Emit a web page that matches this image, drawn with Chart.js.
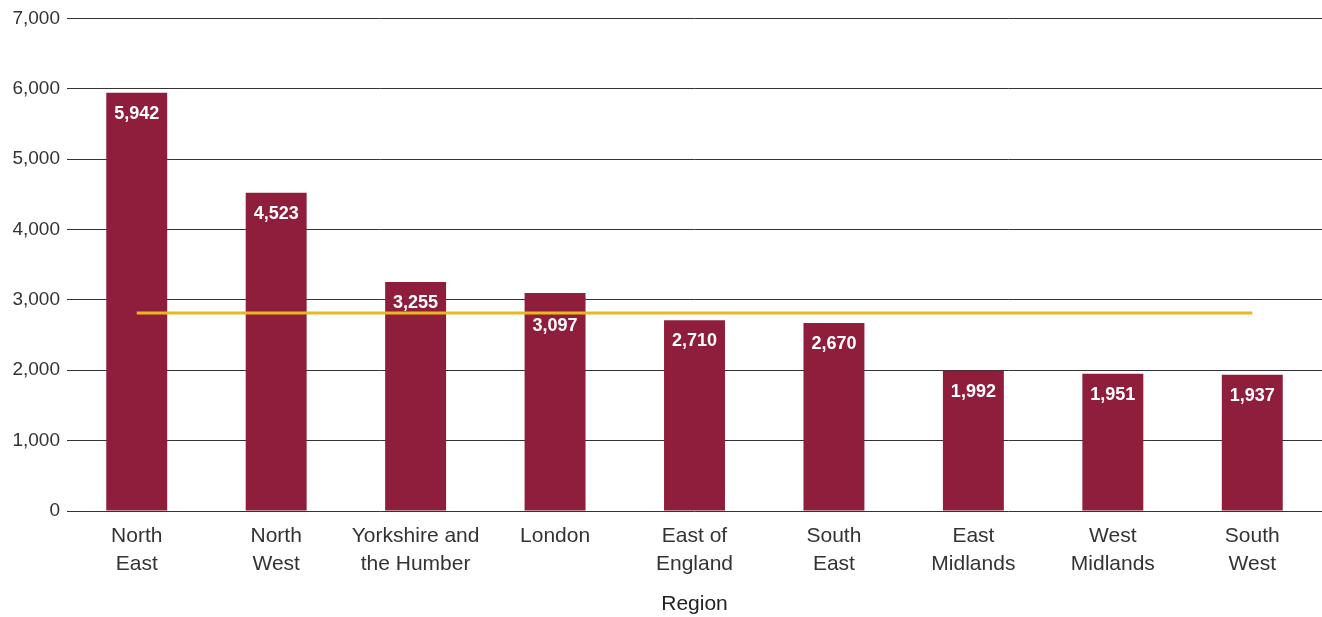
<!DOCTYPE html>
<html>
<head>
<meta charset="utf-8">
<script src="https://cdn.jsdelivr.net/npm/chart.js@4"></script>
<style>
  body { margin: 0; background: #fff; }
  #chart-wrapper { width: 1322px; height: 617px; }
</style>
</head>
<body>
<div id="chart-wrapper"><canvas id="chart-bar-region" width="1322" height="617"></canvas></div>
<script>
const regions = [
  ["North", "East"],
  ["North", "West"],
  ["Yorkshire and", "the Humber"],
  "London",
  ["East of", "England"],
  ["South", "East"],
  ["East", "Midlands"],
  ["West", "Midlands"],
  ["South", "West"],
];
const regionValues = [5942, 4523, 3255, 3097, 2710, 2670, 1992, 1951, 1937];
const averageValue = 2815;

const barColor = "#8E1E3C";
const lineColor = "#EBB81C";
const fontFamily = "'Liberation Sans', Arial, sans-serif";

// white value labels near the top of each bar, pushed below the yellow line when they'd hit it
const barValueLabels = {
  id: "barValueLabels",
  afterDatasetsDraw(chart) {
    const ctx = chart.ctx;
    const meta = chart.getDatasetMeta(1);
    const lineY = chart.scales.y.getPixelForValue(averageValue);
    ctx.save();
    ctx.fillStyle = "#fff";
    ctx.font = "bold 18px " + fontFamily;
    ctx.textAlign = "center";
    ctx.textBaseline = "middle";
    meta.data.forEach((bar, i) => {
      let y = bar.y + 21;
      if (Math.abs(y - lineY) < 6) y = lineY + 13;
      ctx.fillText(regionValues[i].toLocaleString("en-GB"), bar.x, y);
    });
    ctx.restore();
  },
};

new Chart(document.getElementById("chart-bar-region"), {
  data: {
    labels: regions,
    datasets: [
      {
        type: "line",
        label: "Average",
        data: new Array(regionValues.length).fill(averageValue),
        borderColor: lineColor,
        borderWidth: 3,
        pointRadius: 0,
        fill: false,
        order: 0,
      },
      {
        type: "bar",
        label: "Region",
        data: regionValues,
        backgroundColor: barColor,
        barPercentage: 0.437,
        categoryPercentage: 1,
        order: 1,
      },
    ],
  },
  plugins: [barValueLabels],
  options: {
    responsive: false,
    animation: false,
    layout: { padding: { top: 10, right: 0, left: 0, bottom: 0 } },
    plugins: {
      legend: { display: false },
      tooltip: { enabled: false },
    },
    scales: {
      x: {
        grid: { display: false, drawTicks: false },
        border: { display: false },
        ticks: {
          color: "#333",
          font: { family: fontFamily, size: 21, lineHeight: 1.3 },
          padding: 12,
          maxRotation: 0,
          autoSkip: false,
        },
        title: {
          display: true,
          text: "Region",
          color: "#222",
          font: { family: fontFamily, size: 21 },
          padding: { top: 13, bottom: 0 },
        },
        afterFit(scale) {
          scale.height = 106;
        },
      },
      y: {
        min: 0,
        max: 7000,
        grid: { color: "#333", lineWidth: 1, drawTicks: false },
        border: { display: false },
        ticks: {
          stepSize: 1000,
          color: "#333",
          font: { family: fontFamily, size: 19 },
          padding: 7,
          callback: (value) => value.toLocaleString("en-GB"),
        },
        afterFit(scale) {
          scale.width = 67;
        },
      },
    },
  },
});
</script>
</body>
</html>
